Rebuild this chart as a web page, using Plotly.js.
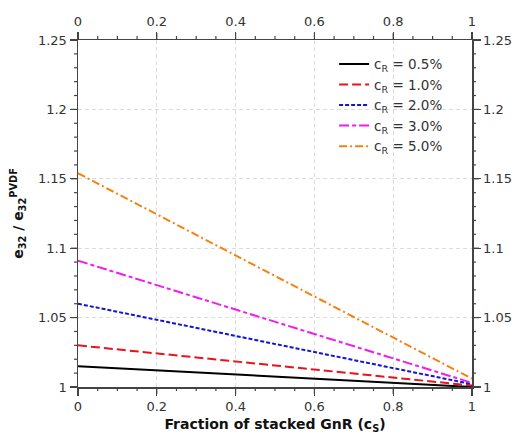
<!DOCTYPE html>
<html><head><meta charset="utf-8">
<script src="https://cdn.plot.ly/plotly-3.0.1.min.js"></script>
<style>html,body{margin:0;padding:0;background:#fff}#plot{width:519px;height:444px}</style>
</head><body><div id="plot"></div>
<script>
const fractionStacked = [0, 1];
const seriesNames = ["c<sub>R</sub> = 0.5%", "c<sub>R</sub> = 1.0%", "c<sub>R</sub> = 2.0%", "c<sub>R</sub> = 3.0%", "c<sub>R</sub> = 5.0%"];
const cR05 = [1.015, 1.000];
const cR10 = [1.030, 1.001];
const cR20 = [1.060, 1.002];
const cR30 = [1.091, 1.003];
const cR50 = [1.154, 1.006];
const seriesValues = [cR05, cR10, cR20, cR30, cR50];
const colors = ["#000000", "#e8141c", "#1414d2", "#ee1cee", "#f5820f"];
const dashes = ["solid", "9px,4px", "4px,2px", "10px,3px,4px,3px", "8px,3px,2px,3px"];
const xRange = [0, 1];
const yRange = [1, 1.25];

const traces = seriesValues.map((v, i) => ({
  x: fractionStacked, y: v, type: "scatter", mode: "lines", name: seriesNames[i],
  line: {color: colors[i], width: 2, dash: dashes[i]}
}));
traces.push({x: fractionStacked, y: cR05, xaxis: "x2", yaxis: "y2", type: "scatter", mode: "lines",
  showlegend: false, line: {width: 0}});

// tick marks (outside, on all four sides), majors and minors
const shapes = [];
function addXTick(frac, len) {
  const base = {type: "line", xref: "x domain", yref: "y domain", ysizemode: "pixel", x0: frac, x1: frac,
    line: {color: "#444", width: 1.2}, layer: "above"};
  shapes.push(Object.assign({}, base, {yanchor: 0, y0: 0, y1: -len}));
  shapes.push(Object.assign({}, base, {yanchor: 1, y0: 0, y1: len}));
}
function addYTick(frac, len) {
  const base = {type: "line", xref: "x domain", yref: "y domain", xsizemode: "pixel", y0: frac, y1: frac,
    line: {color: "#444", width: 1.2}, layer: "above"};
  shapes.push(Object.assign({}, base, {xanchor: 0, x0: 0, x1: -len}));
  shapes.push(Object.assign({}, base, {xanchor: 1, x0: 0, x1: len}));
}
for (let k = 0; k <= 20; k++) {
  const v = xRange[0] + k * 0.05;
  addXTick((v - xRange[0]) / (xRange[1] - xRange[0]), k % 4 === 0 ? 7 : 4);
}
for (let k = 0; k <= 25; k++) {
  const v = yRange[0] + k * 0.01;
  addYTick((v - yRange[0]) / (yRange[1] - yRange[0]), k % 5 === 0 ? 7 : 4);
}

function tf() { return {family: "DejaVu Sans", size: 13, color: "#333"}; }
const common = {
  showline: true, linecolor: "#444", linewidth: 1.5, ticks: "outside", ticklen: 7, tickwidth: 1.2,
  tickcolor: "#444", zeroline: false
};
const layout = {
  width: 519, height: 444, margin: {l: 78, r: 47, t: 40, b: 57},
  shapes: shapes,
  xaxis: Object.assign({}, common, {range: xRange, dtick: 0.2, showgrid: true, gridcolor: "#dcdcdc", griddash: "4px,3px",
    tickfont: tf(),
    title: {text: "<b>Fraction of stacked GnR (c<sub>S</sub>)</b>", font: {family: "DejaVu Sans", size: 14, color: "#111"}, standoff: 6}}),
  yaxis: Object.assign({}, common, {range: yRange, dtick: 0.05, showgrid: true, gridcolor: "#dcdcdc", griddash: "4px,3px",
    tickfont: tf(),
    title: {text: "<b>e<sub>32</sub> / e<sub>32</sub><sup>PVDF</sup></b>", font: {family: "DejaVu Sans", size: 14, color: "#111"}, standoff: 11}}),
  xaxis2: Object.assign({}, common, {range: xRange, dtick: 0.2, overlaying: "x", side: "top", showgrid: false, anchor: "y2",
    tickfont: tf()}),
  yaxis2: Object.assign({}, common, {range: yRange, dtick: 0.05, overlaying: "y", side: "right", showgrid: false, anchor: "x2",
    tickfont: tf()}),
  legend: {x: 0.65, y: 0.975, xanchor: "left", yanchor: "top", bgcolor: "rgba(255,255,255,0)",
    borderwidth: 0, font: {family: "DejaVu Sans", size: 13.5, color: "#333"}, tracegroupgap: 0}
};
Plotly.newPlot("plot", traces, layout, {staticPlot: true});
</script></body></html>
